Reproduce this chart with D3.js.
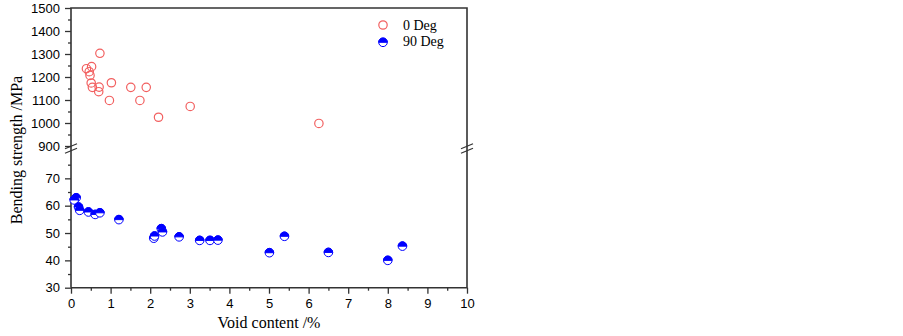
<!DOCTYPE html>
<html>
<head>
  <meta charset="utf-8">
  <title>bending strength vs void content</title>
  <script src="https://d3js.org/d3.v7.min.js"></script>
  <style>
    body { margin: 0; background: #fff; }
    svg text { font-family: "Liberation Sans", Arial, sans-serif; font-size: 13px; }
    .serif { font-family: "Liberation Serif", "Times New Roman", serif; }
  </style>
</head>
<body>
<div id="chart"></div>
<script>
// 0 Deg samples (upper panel, MPa)
var void0 = [0.39, 0.52, 0.46, 0.48, 0.73, 0.51, 0.54, 0.71, 0.70, 1.02, 0.97, 1.51, 1.74, 1.90, 2.21, 3.01, 6.26];
var str0  = [1236, 1245, 1223, 1207, 1303, 1174, 1155, 1156, 1136, 1175, 1098, 1155, 1098, 1155, 1025, 1072, 998];

// 90 Deg samples (lower panel, MPa)
var void90 = [0.13, 0.08, 0.19, 0.22, 0.44, 0.61, 0.73, 1.21, 2.09, 2.11, 2.28, 2.31, 2.73, 3.25, 3.51, 3.71, 5.01, 5.39, 6.50, 8.00, 8.37];
var str90  = [62.9, 62.1, 59.5, 58.3, 57.7, 56.8, 57.4, 54.9, 48.1, 48.9, 51.6, 50.4, 48.6, 47.3, 47.3, 47.4, 42.8, 48.8, 42.9, 40.0, 45.2];

var xTicks = [0, 1, 2, 3, 4, 5, 6, 7, 8, 9, 10];
var topTicks = [900, 1000, 1100, 1200, 1300, 1400, 1500];
var botTicks = [30, 40, 50, 60, 70];
var seriesNames = ["0 Deg", "90 Deg"];

var W = 903, H = 336;
var L = 71, R = 467, T = 8, B = 287.7;
var axisCol = "#333";
var red = "#f26060", blue = "#0000ff";

var svg = d3.select("#chart").append("svg")
  .attr("width", W).attr("height", H);

var x = d3.scaleLinear().domain([0, 10]).range([L, R]);
var yTop = d3.scaleLinear().domain([900, 1500]).range([146, T]);
var yBot = d3.scaleLinear().domain([30, 80]).range([B, 151]);
var fmt = d3.format("d");

function minors(a, b, s) {
  var out = [];
  for (var v = a; v <= b + 1e-9; v += s) out.push(+v.toFixed(2));
  return out;
}

// left axes
svg.append("g").attr("transform", "translate(" + L + ",0)")
  .call(d3.axisLeft(yTop).tickValues(topTicks).tickFormat(fmt).tickSize(6).tickPadding(5));
svg.append("g").attr("transform", "translate(" + L + ",0)")
  .call(d3.axisLeft(yTop).tickValues(minors(950, 1450, 100)).tickSize(3).tickFormat(""));
svg.append("g").attr("transform", "translate(" + L + ",0)")
  .call(d3.axisLeft(yBot).tickValues(botTicks).tickFormat(fmt).tickSize(6).tickPadding(5));
svg.append("g").attr("transform", "translate(" + L + ",0)")
  .call(d3.axisLeft(yBot).tickValues(minors(35, 75, 10)).tickSize(3).tickFormat(""));

// bottom axis
svg.append("g").attr("transform", "translate(0," + B + ")")
  .call(d3.axisBottom(x).tickValues(xTicks).tickFormat(fmt).tickSize(6).tickPadding(5));
svg.append("g").attr("transform", "translate(0," + B + ")")
  .call(d3.axisBottom(x).tickValues(minors(0.5, 9.5, 1)).tickSize(3).tickFormat(""));

svg.selectAll(".domain").remove();
svg.selectAll(".tick line").attr("stroke", axisCol).attr("stroke-width", 1.3);
svg.selectAll(".tick text").attr("fill", "#000").style("font-size", "13px");

// frame
svg.append("path")
  .attr("d", "M" + L + "," + B + "V" + T + "H" + R + "V" + B + "H" + L)
  .attr("fill", "none").attr("stroke", axisCol).attr("stroke-width", 1.6);

// break marks
[L, R].forEach(function(px) {
  [146.3, 150.8].forEach(function(py) {
    svg.append("line")
      .attr("x1", px - 6).attr("y1", py + 2.5)
      .attr("x2", px + 6).attr("y2", py - 2.5)
      .attr("stroke", axisCol).attr("stroke-width", 1.2);
  });
});

// 0 Deg: open red circles
svg.append("g").selectAll("circle").data(void0).enter().append("circle")
  .attr("cx", function(d) { return x(d); })
  .attr("cy", function(d, i) { return yTop(str0[i]); })
  .attr("r", 4.2)
  .attr("fill", "none").attr("stroke", red).attr("stroke-width", 1.2);

// 90 Deg: half-filled blue circles
function halfDot(g, cx, cy) {
  var r = 4.3;
  g.append("circle").attr("cx", cx).attr("cy", cy).attr("r", r)
    .attr("fill", "#fff").attr("stroke", blue).attr("stroke-width", 1);
  g.append("path")
    .attr("d", "M" + (cx - r) + "," + cy + "A" + r + "," + r + " 0 0 1 " + (cx + r) + "," + cy + "Z")
    .attr("fill", blue).attr("stroke", blue).attr("stroke-width", 1);
}
var g90 = svg.append("g");
void90.forEach(function(d, i) { halfDot(g90, x(d), yBot(str90[i])); });

// legend
svg.append("circle").attr("cx", 383).attr("cy", 25).attr("r", 4.2)
  .attr("fill", "none").attr("stroke", red).attr("stroke-width", 1.2);
halfDot(svg, 383, 42.3);
svg.selectAll(".leg").data(seriesNames).enter().append("text")
  .attr("class", "serif")
  .attr("x", 403).attr("y", function(d, i) { return 29.5 + i * 16.8; })
  .style("font-size", "14px")
  .text(function(d) { return d; });

// axis titles
svg.append("text").attr("class", "serif")
  .attr("x", (L + R) / 2).attr("y", 328)
  .attr("text-anchor", "middle").style("font-size", "16px")
  .text("Void content /%");
svg.append("text").attr("class", "serif")
  .attr("transform", "translate(22,150) rotate(-90)")
  .attr("text-anchor", "middle").style("font-size", "16px")
  .text("Bending strength /MPa");
</script>
</body>
</html>
